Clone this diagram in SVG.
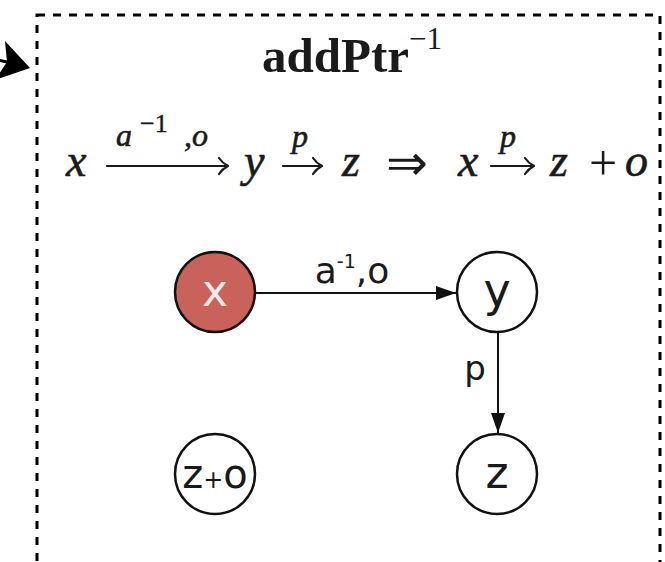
<svg xmlns="http://www.w3.org/2000/svg" width="665" height="562" viewBox="0 0 665 562">
<defs>
<style>
.frame{fill:none;stroke:#000;stroke-width:3;stroke-dasharray:8 8}
.node{stroke:#111;stroke-width:2.5}
.lbl{font-family:"DejaVu Sans",Verdana,sans-serif;fill:#1a1a1a;text-anchor:middle}
.math{font-family:"Liberation Serif","Times New Roman",serif;font-style:italic;fill:#1a1a1a;stroke:#1a1a1a;stroke-width:0.6}
.rm{font-family:"Liberation Serif","Times New Roman",serif;fill:#1a1a1a}
.edge{stroke:#111;stroke-width:2;fill:none}
.tex{stroke:#1a1a1a;stroke-width:2.2;fill:none;stroke-linecap:round}
</style>
<marker id="arr" viewBox="0 0 20 14" refX="20" refY="7" markerWidth="20" markerHeight="14" markerUnits="userSpaceOnUse" orient="auto"><path d="M0,0 L20,7 L0,14 Z" fill="#111"/></marker>
</defs>
<rect width="665" height="562" fill="#fff"/>
<rect class="frame" x="37" y="15" width="623" height="570"/>
<g id="pointer">
<path d="M-20,56 L7,62" stroke="#000" stroke-width="3"/>
<path d="M30,68 L5,41 L7,62 L-5,80 Z" fill="#000"/>
</g>
<g id="title">
<text class="rm" x="262" y="72" font-size="49" font-weight="bold">addPtr<tspan font-size="31" font-weight="normal" dy="-23">−1</tspan></text>
</g>
<g id="formula">
<text class="math" x="66" y="176" font-size="46">x</text>
<line class="tex" x1="107" y1="166" x2="227" y2="166"/>
<path class="tex" d="M228,166 c-4,-2 -7,-5 -9,-8 M228,166 c-4,2 -7,5 -9,8"/>
<text class="math" x="116" y="146" font-size="32">a</text>
<text class="rm" x="140" y="132" font-size="26" stroke="#1a1a1a" stroke-width="0.4">−1</text>
<text class="math" x="184" y="146" font-size="32">,o</text>
<text class="math" x="244" y="176" font-size="46">y</text>
<line class="tex" x1="283" y1="166" x2="321" y2="166"/>
<path class="tex" d="M322,166 c-4,-2 -7,-5 -9,-8 M322,166 c-4,2 -7,5 -9,8"/>
<text class="math" x="292" y="147" font-size="32">p</text>
<text class="math" x="342" y="176" font-size="46">z</text>
<text class="rm" x="386" y="180" font-size="50">⇒</text>
<text class="math" x="458" y="176" font-size="46">x</text>
<line class="tex" x1="491" y1="166" x2="533" y2="166"/>
<path class="tex" d="M534,166 c-4,-2 -7,-5 -9,-8 M534,166 c-4,2 -7,5 -9,8"/>
<text class="math" x="500" y="147" font-size="32">p</text>
<text class="math" x="550" y="176" font-size="46">z</text>
<text class="rm" x="589" y="180" font-size="50">+</text>
<text class="math" x="625" y="176" font-size="46">o</text>
</g>
<g id="connectors">
<line class="edge" x1="256" y1="293" x2="456" y2="293" marker-end="url(#arr)"/>
<text class="lbl" x="352" y="283" font-size="36">a<tspan font-size="19" dy="-15">-1</tspan><tspan dy="15">,o</tspan></text>
<line class="edge" x1="498" y1="332" x2="498" y2="433" marker-end="url(#arr)"/>
<text class="lbl" x="475" y="380" font-size="34">p</text>
</g>
<g id="node-x">
<circle class="node" cx="215" cy="292" r="40" fill="#c8625b"/>
<text class="lbl" x="215" y="306" font-size="44" style="fill:#fbeae8">x</text>
</g>
<g id="node-y">
<circle class="node" cx="497" cy="292" r="40" fill="#fff"/>
<text class="lbl" x="497" y="306" font-size="46">y</text>
</g>
<g id="node-zo">
<circle class="node" cx="215" cy="474" r="40" fill="#fff"/>
<text class="lbl" x="215" y="488" font-size="40">z<tspan font-size="24">+</tspan>o</text>
</g>
<g id="node-z">
<circle class="node" cx="497" cy="474" r="40" fill="#fff"/>
<text class="lbl" x="497" y="488" font-size="44">z</text>
</g>
</svg>
